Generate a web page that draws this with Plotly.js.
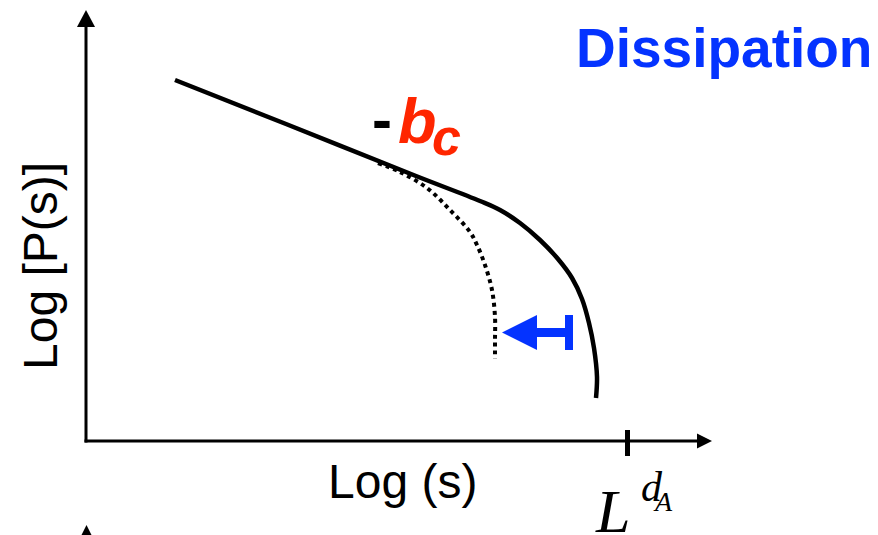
<!DOCTYPE html>
<html>
<head>
<meta charset="utf-8">
<script src="https://cdn.plot.ly/plotly-3.0.1.min.js"></script>
<style>
  html, body { margin: 0; padding: 0; background: #ffffff; }
  #chart { width: 878px; height: 535px; }
</style>
</head>
<body>
<div id="chart"></div>
<script>
// Schematic avalanche-size distribution: log P(s) against log s.
// Units: x and y measured from the corner where the two axes meet.

// Undissipated distribution: power law with slope -b_c, cut off near L^{d_A}
const solidLogS = [89, 200, 330, 394, 414, 434, 454, 472, 486, 496, 503, 508, 511, 510];
const solidLogP = [361, 317, 265, 240, 231, 218, 201, 182, 163, 142, 118, 93, 64, 43];

// With dissipation: the cutoff moves to smaller sizes
const dissLogS = [292, 314, 341, 364, 384, 391, 399, 406, 409, 409, 409];
const dissLogP = [278, 269, 253, 231, 209, 196, 176, 151, 124, 101, 82];

// Axis extent and the system-size tick on the s axis
const xAxisEnd = 626;
const yAxisEnd = 431;
const sizeTick = 541.5;

const BLUE = '#0433FF';
const RED = '#FF2600';

const traces = [
  {
    x: solidLogS, y: solidLogP, type: 'scatter', mode: 'lines',
    line: { color: '#000000', width: 4.5, shape: 'spline', smoothing: 1 },
    hoverinfo: 'skip'
  },
  {
    x: dissLogS, y: dissLogP, type: 'scatter', mode: 'lines',
    line: { color: '#000000', width: 4, shape: 'spline', smoothing: 1, dash: '4px,4px' },
    hoverinfo: 'skip'
  }
];

const shapes = [
  // vertical axis with arrowhead
  { type: 'line', x0: 0, y0: -1.5, x1: 0, y1: yAxisEnd - 16, line: { color: '#000', width: 3 } },
  { type: 'path', path: `M -9 ${yAxisEnd - 17} L 0 ${yAxisEnd} L 9 ${yAxisEnd - 17} Z`,
    fillcolor: '#000', line: { width: 0 } },
  // horizontal axis with arrowhead
  { type: 'line', x0: -1.5, y0: 0, x1: xAxisEnd - 15, y1: 0, line: { color: '#000', width: 3 } },
  { type: 'path', path: `M ${xAxisEnd - 15} 7.5 L ${xAxisEnd} 0 L ${xAxisEnd - 15} -7.5 Z`,
    fillcolor: '#000', line: { width: 0 } },
  // tick at L^{d_A}
  { type: 'line', x0: sizeTick, y0: -15, x1: sizeTick, y1: 11, line: { color: '#000', width: 5 } },
  // next panel's axis arrowhead peeking in at the bottom
  { type: 'path', path: 'M -8 -101 L 0.5 -84 L 9 -101 Z', fillcolor: '#000', line: { width: 0 } },
  // blue arrow: cutoff shifting left
  { type: 'path', path: 'M 416 108.5 L 451 126 L 451 91 Z', fillcolor: BLUE, line: { width: 0 } },
  { type: 'rect', x0: 450, x1: 483, y0: 104, y1: 113, fillcolor: BLUE, line: { width: 0 } },
  { type: 'rect', x0: 479, x1: 487, y0: 91, y1: 126, fillcolor: BLUE, line: { width: 0 } }
];

const sans = 'Liberation Sans, Helvetica, Arial, sans-serif';
const serif = 'Liberation Serif, Times New Roman, serif';

function label(x, y, text, font, extra) {
  return Object.assign({
    x: x, y: y, xref: 'x', yref: 'y', text: text, showarrow: false,
    xanchor: 'center', yanchor: 'middle', borderpad: 0, font: font
  }, extra || {});
}

const annotations = [
  label(489, 393.5, '<b>Dissipation</b>', { family: sans, size: 55, color: BLUE }, { xanchor: 'left' }),
  label(296, 322, '<b>-</b>', { family: sans, size: 60, color: '#000' }),
  label(331, 320, '<b><i>b</i></b>', { family: sans, size: 63, color: RED }),
  label(360, 304, '<b><i>c</i></b>', { family: sans, size: 52, color: RED }),
  label(316, -40, 'Log (s)', { family: sans, size: 48, color: '#000' }),
  label(-46, 175, 'Log [P(s)]', { family: sans, size: 48, color: '#000' }, { textangle: -90 }),
  label(526, -70, '<i>L</i>', { family: serif, size: 62, color: '#000' }),
  label(566, -46, '<i>d</i>', { family: serif, size: 42, color: '#000' }),
  label(577, -60, '<i>A</i>', { family: serif, size: 28, color: '#000' })
];

const layout = {
  width: 878, height: 535,
  margin: { l: 0, r: 0, t: 0, b: 0, pad: 0 },
  paper_bgcolor: '#ffffff', plot_bgcolor: '#ffffff',
  showlegend: false,
  xaxis: { range: [-86, 792], visible: false, fixedrange: true },
  yaxis: { range: [-94, 441], visible: false, fixedrange: true },
  shapes: shapes,
  annotations: annotations
};

Plotly.newPlot('chart', traces, layout, { staticPlot: true, displayModeBar: false });
</script>
</body>
</html>
